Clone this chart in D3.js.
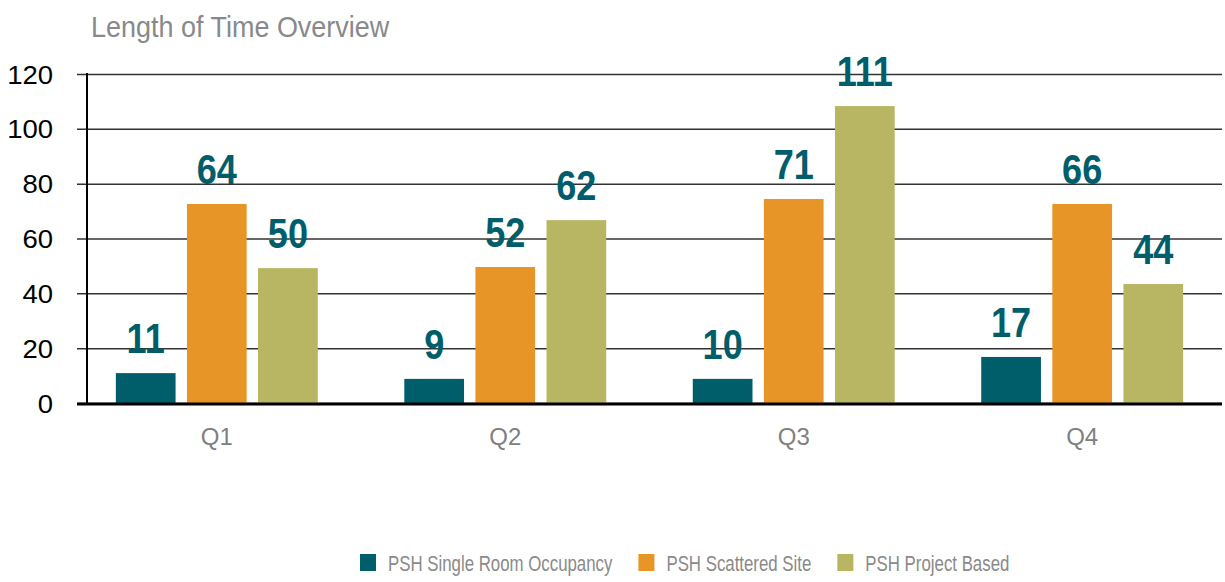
<!DOCTYPE html>
<html>
<head>
<meta charset="utf-8">
<script src="https://cdn.jsdelivr.net/npm/d3@7"></script>
<style>
  html, body { margin: 0; padding: 0; background: #fff; }
  svg { display: block; }
</style>
</head>
<body>
<svg id="chart" width="1225" height="582"></svg>
<script>
// ---- data ----
const title = "Length of Time Overview";
const quarters = ["Q1", "Q2", "Q3", "Q4"];
const seriesNames = ["PSH Single Room Occupancy", "PSH Scattered Site", "PSH Project Based"];
const seriesColors = ["#005e6b", "#e69526", "#b8b662"];
// bar heights as drawn in the reference
const sroBars = [10.9, 8.8, 8.8, 16.8];
const scatteredBars = [72.6, 49.6, 74.4, 72.6];
const projectBars = [49.2, 66.7, 108.3, 43.4];
// data labels printed above the bars
const sroLabels = [11, 9, 10, 17];
const scatteredLabels = [64, 52, 71, 66];
const projectLabels = [50, 62, 111, 44];
const yTicks = [0, 20, 40, 60, 80, 100, 120];

const barSeries = [sroBars, scatteredBars, projectBars];
const labelSeries = [sroLabels, scatteredLabels, projectLabels];

const rows = [];
quarters.forEach((q, qi) => {
  seriesNames.forEach((s, si) => {
    rows.push({ q, s, si, bar: barSeries[si][qi], label: labelSeries[si][qi] });
  });
});

const SANS = "'Liberation Sans', Arial, Helvetica, sans-serif";

// ---- layout ----
const svg = d3.select("#chart");
const plotLeft = 87, plotRight = 1222;
const y = d3.scaleLinear().domain([0, 120]).range([403, 74]);
const x0 = d3.scaleBand().domain(quarters).range([87, 1212]).paddingInner(0.3).paddingOuter(0.1);
const x1 = d3.scaleBand().domain(seriesNames).range([0, x0.bandwidth()]).paddingInner(0.16);

// title (condensed look by horizontal scaling)
svg.append("text")
  .attr("transform", "translate(91,37) scale(0.93,1)")
  .attr("font-family", SANS)
  .attr("font-size", 29)
  .attr("fill", "#87898c")
  .text(title);

// gridlines + y labels
const yAxis = d3.axisLeft(y).tickValues(yTicks).tickSize(0).tickPadding(0).tickFormat(d3.format("d"));
const yg = svg.append("g").attr("transform", "translate(77,0)").call(yAxis);
yg.select(".domain").remove();
yg.selectAll(".tick line")
  .attr("stroke", "#333").attr("stroke-width", 1.5)
  .attr("x1", 0).attr("x2", plotRight - 77);
yg.selectAll(".tick text")
  .attr("x", null).attr("dy", null)
  .attr("transform", "translate(-24,9) scale(1.1,1)")
  .attr("text-anchor", "end")
  .attr("font-family", SANS)
  .attr("font-size", 25)
  .attr("fill", "#000");

// bars
svg.append("g").selectAll("rect")
  .data(rows)
  .join("rect")
  .attr("x", d => x0(d.q) + x1(d.s))
  .attr("y", d => y(d.bar))
  .attr("width", x1.bandwidth())
  .attr("height", d => y(0) - y(d.bar))
  .attr("fill", d => seriesColors[d.si]);

// baseline & vertical axis
svg.append("line")
  .attr("x1", 77).attr("x2", plotRight)
  .attr("y1", y(0) + 1).attr("y2", y(0) + 1)
  .attr("stroke", "#000").attr("stroke-width", 3);
svg.append("line")
  .attr("x1", plotLeft).attr("x2", plotLeft)
  .attr("y1", y(120) - 1).attr("y2", y(0) + 2)
  .attr("stroke", "#000").attr("stroke-width", 2);

// data labels (condensed bold)
svg.append("g").selectAll("text")
  .data(rows)
  .join("text")
  .attr("transform", d => `translate(${x0(d.q) + x1(d.s) + x1.bandwidth() / 2},${y(d.bar) - 20}) scale(0.84,1)`)
  .attr("text-anchor", "middle")
  .attr("font-family", SANS)
  .attr("font-weight", "bold")
  .attr("font-size", 43)
  .attr("fill", "#005e6b")
  .text(d => d.label);

// x labels
const xAxis = d3.axisBottom(x0).tickSize(0).tickPadding(0);
const xg = svg.append("g").attr("transform", "translate(0,445)").call(xAxis);
xg.select(".domain").remove();
xg.selectAll(".tick text")
  .attr("dy", 0)
  .attr("y", 0)
  .attr("font-family", SANS)
  .attr("font-size", 24)
  .attr("fill", "#808080");

// legend
const legend = svg.append("g");
const legendScale = 0.765;
let lx = 360;
seriesNames.forEach((name, i) => {
  legend.append("rect")
    .attr("x", lx).attr("y", 554)
    .attr("width", 16).attr("height", 17)
    .attr("fill", seriesColors[i]);
  const t = legend.append("text")
    .attr("transform", `translate(${lx + 28},571) scale(${legendScale},1)`)
    .attr("font-family", SANS)
    .attr("font-size", 22)
    .attr("fill", "#8a8a8a")
    .text(name);
  lx += 28 + t.node().getComputedTextLength() * legendScale + 26;
});
</script>
</body>
</html>
